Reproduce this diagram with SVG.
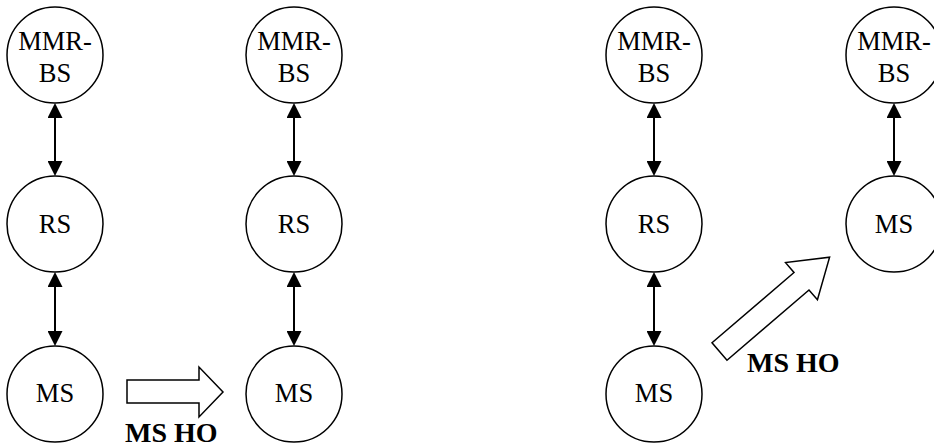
<svg xmlns="http://www.w3.org/2000/svg" width="934" height="447" viewBox="0 0 934 447">
<defs>
<style>
.node circle{fill:#fff;stroke:#000;stroke-width:1.5}
.node text{font-family:"Liberation Serif",serif;font-size:26.5px;text-anchor:middle;fill:#000}
.conn line{stroke:#000;stroke-width:2;marker-start:url(#ah);marker-end:url(#ah)}
.block{fill:#fff;stroke:#000;stroke-width:1.5;stroke-linejoin:miter}
.lbl{font-family:"Liberation Serif",serif;font-size:28px;font-weight:bold;fill:#000}
</style>
<marker id="ah" markerUnits="userSpaceOnUse" markerWidth="15" markerHeight="15" refX="5" refY="7.5" orient="auto-start-reverse">
<path d="M0,0 L15,7.5 L0,15 z" fill="#000"/>
</marker>
</defs>
<rect width="934" height="447" fill="#fff"/>
<g id="connectors" class="conn">
<line x1="55" y1="113" x2="55" y2="166"/>
<line x1="55" y1="282" x2="55" y2="336"/>
<line x1="294" y1="113" x2="294" y2="166"/>
<line x1="294" y1="282" x2="294" y2="336"/>
<line x1="654" y1="113" x2="654" y2="166"/>
<line x1="654" y1="282" x2="654" y2="336"/>
<line x1="894" y1="113" x2="894" y2="166"/>
</g>
<g id="c1-mmrbs" class="node"><circle cx="55" cy="55" r="48"/><text x="55" y="50">MMR-</text><text x="55" y="82">BS</text></g>
<g id="c1-rs" class="node"><circle cx="55" cy="224" r="48"/><text x="55" y="233">RS</text></g>
<g id="c1-ms" class="node"><circle cx="55" cy="394" r="48"/><text x="55" y="402">MS</text></g>
<g id="c2-mmrbs" class="node"><circle cx="294" cy="55" r="48"/><text x="294" y="50">MMR-</text><text x="294" y="82">BS</text></g>
<g id="c2-rs" class="node"><circle cx="294" cy="224" r="48"/><text x="294" y="233">RS</text></g>
<g id="c2-ms" class="node"><circle cx="294" cy="394" r="48"/><text x="294" y="402">MS</text></g>
<g id="c3-mmrbs" class="node"><circle cx="654" cy="55" r="48"/><text x="654" y="50">MMR-</text><text x="654" y="82">BS</text></g>
<g id="c3-rs" class="node"><circle cx="654" cy="224" r="48"/><text x="654" y="233">RS</text></g>
<g id="c3-ms" class="node"><circle cx="654" cy="394" r="48"/><text x="654" y="402">MS</text></g>
<g id="c4-mmrbs" class="node"><circle cx="894" cy="55" r="48"/><text x="894" y="50">MMR-</text><text x="894" y="82">BS</text></g>
<g id="c4-ms" class="node"><circle cx="894" cy="224" r="48"/><text x="894" y="233">MS</text></g>
<g id="ho1">
<path class="block" d="M127,380 L199,380 L199,367 L223,392 L199,417 L199,403 L127,403 Z"/>
<text class="lbl" x="125" y="442">MS HO</text>
</g>
<g id="ho2">
<path class="block" transform="translate(719.5,351.5) rotate(-40.6)" d="M0,-11.5 L108,-11.5 L108,-24.5 L145,0 L108,24.5 L108,11.5 L0,11.5 Z"/>
<text class="lbl" x="747" y="372">MS HO</text>
</g>
</svg>
